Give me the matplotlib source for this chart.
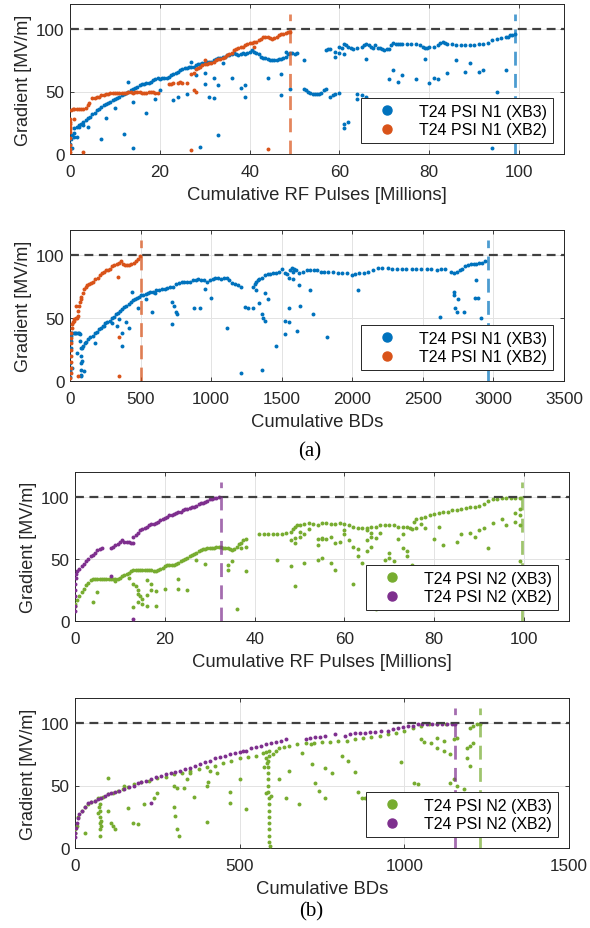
import matplotlib
matplotlib.use('Agg')
import matplotlib.pyplot as plt
from matplotlib.lines import Line2D

plt.rcParams['font.family'] = ['Liberation Sans', 'DejaVu Sans']

# cores no estilo MATLAB
AZUL = '#0072BD'
LARANJA = '#D95319'
VERDE = '#77AC30'
ROXO = '#7E2F8E'

# ---- (a) T24 PSI N1, gradiente vs pulsos RF (milhoes) ----
n1_pulsos_xb3 = [
    (0, 4), (0, 8), (0.3, 12), (0.5, 15), (0.8, 17), (1, 14), (1, 21), (1.5, 22), (2, 23), (2.5, 24), (3, 26),
    (3.5, 27), (4, 29), (4.5, 30), (5, 32), (5.5, 33), (6, 35), (6.5, 36), (7, 38), (7.5, 39), (8, 40),
    (8.5, 41), (9, 42), (9.5, 43), (10, 44), (10.5, 45), (11, 46), (11.5, 47), (12, 48), (12.5, 49),
    (13, 50), (13.5, 51), (14, 52), (14.5, 53), (15, 54), (15.5, 55), (16, 56), (16.5, 56), (17, 57),
    (17.5, 57), (18, 58), (18.5, 59), (19, 60), (19.5, 61), (20, 60), (20.5, 61), (21, 61), (21.5, 61),
    (22, 62), (22.5, 63), (23, 64), (23.5, 65), (24, 66), (24.5, 67), (25, 68), (25.5, 69), (26, 69),
    (26.5, 70), (27, 70), (27.5, 70), (28, 71), (28.5, 72), (29, 72), (29.5, 73), (30, 73), (30.5, 74),
    (31, 74), (31.5, 74), (32, 75), (32.5, 76), (33, 77), (33.5, 77), (34, 78), (34.5, 78), (35, 79),
    (35.5, 79), (36, 80), (36.5, 81), (37, 80), (37.5, 79), (38, 80), (38.5, 81), (39, 80), (39.5, 81),
    (40, 82), (40.5, 83), (41, 82), (41.5, 81), (42, 80), (42.5, 78), (43, 77), (43.5, 77), (44, 76),
    (44.5, 75), (45, 75), (45.5, 75), (46, 75), (46.5, 76), (47, 76), (47.5, 77), (48, 78), (48.5, 80),
    (49, 81), (49.5, 81), (50, 80), (50.5, 81),
    # pontos dispersos
    (0.5, 5), (1.5, 14), (2, 22), (3, 23), (4, 22), (7, 12), (8, 29), (10, 37), (12, 16), (13, 58),
    (14, 5), (14, 42), (17, 33), (19, 44), (20, 51), (23, 43), (24, 46), (27, 74), (26, 48), (28, 63),
    (29, 6), (30, 56), (30, 65), (31, 46), (32, 45), (32, 61), (33, 55), (33, 15), (34, 73), (36, 61),
    (38, 53), (39, 46), (39, 55), (44, 61), (47, 47), (47, 64), (48, 82), (49, 52),
    # ramo inferior apos 50
    (52, 75), (52, 52), (52.5, 51), (53, 50), (53.5, 49), (54, 48), (54.5, 48), (55, 48), (55.5, 48),
    (56, 49), (56.5, 51), (57, 52), (58, 46), (58.5, 47), (59, 48), (60, 49), (61, 24), (61, 21),
    (62, 26), (64, 48), (64, 44), (65, 47), (66, 46),
    # ramo superior
    (57, 83), (57.5, 84), (58, 84), (59, 82), (59, 78), (60, 86), (60, 81), (60.5, 85), (61, 88),
    (61, 80), (61.5, 87), (62, 86), (62.5, 85), (63, 84), (64, 85), (65, 86), (65.5, 87), (66, 88),
    (66, 76), (66.5, 87), (67, 86), (67.5, 85), (68, 87), (68.5, 85), (69, 85), (69.5, 84), (70, 83),
    (70.5, 84), (71, 84), (71.5, 87), (72, 89), (72.5, 88), (73, 88), (73.5, 88), (74, 88), (75, 88),
    (76, 88), (77, 88), (78, 87), (78.5, 86), (79, 85), (79.5, 85), (80, 86), (81, 86), (82, 87),
    (82.5, 89), (83, 90), (83.5, 89), (84, 88), (85, 88), (86, 87), (87, 87), (88, 87), (89, 87),
    (90, 87), (91, 88), (92, 88), (93, 89), (94, 91), (95, 92), (96, 93), (97, 94), (97.5, 94),
    (98, 95), (98.5, 95), (99, 96),
    (71, 60), (72, 67), (73, 58), (74, 63), (77, 60), (79, 76), (80, 57), (81, 61), (82, 60),
    (84, 65), (86, 75), (88, 66), (89, 73), (91, 66), (92, 67), (95, 50), (97, 67), (94, 5),
]
n1_pulsos_xb2 = [
    (0, 2), (0, 4), (0, 7), (0, 13), (0, 18), (0, 20), (0, 22), (0, 24), (0, 26), (0, 28), (0.3, 35),
    (0.6, 36), (1, 36), (1.5, 36), (2, 36), (2.5, 36), (3, 36), (3.5, 37), (4, 39), (4.3, 41),
    (5, 45), (5.5, 45), (6, 46), (6.5, 46), (7, 47), (7.5, 47), (8, 48), (8.5, 48), (9, 49),
    (9.5, 49), (10, 49), (10.5, 49), (11, 49), (11.5, 49), (12, 49), (12.5, 49), (13, 50),
    (13.5, 50), (14, 49), (14.5, 50), (15, 50), (15.5, 50), (16, 49), (16.5, 49), (17, 49),
    (17.5, 50), (18, 50), (18.5, 50), (19, 49), (19.5, 49),
    (22, 56), (22.5, 56), (23, 57), (24, 57), (24.5, 58), (25, 57), (26, 57), (27, 64), (27.5, 65),
    (27.5, 51), (28, 50), (28, 68), (28.5, 69), (29, 70), (29.5, 71), (30, 72), (30.5, 72), (31, 73),
    (31.5, 73), (32, 74), (32.5, 75), (33, 76), (33.5, 76), (34, 77), (34.5, 78), (35, 79),
    (35.5, 80), (36, 81), (36.5, 83), (37, 84), (37.5, 85), (38, 86), (38.5, 86), (39, 87),
    (39.5, 88), (40, 89), (40.5, 89), (41, 90), (41.5, 90), (42, 91), (42.5, 92), (43, 94),
    (43.5, 94), (44, 94), (44.5, 93), (45, 92), (45.5, 93), (46, 94), (46.5, 95), (47, 96),
    (47.5, 96), (48, 97), (48.5, 98), (49, 98),
    (1, 28), (3, 2), (27, 3), (30, 75), (44, 4), (41, 86),
]
n1_fim_pulsos_xb3 = 99.2
n1_fim_pulsos_xb2 = 49

# ---- (a) T24 PSI N1, gradiente vs BDs acumulados ----
n1_bds_xb3 = [
    (0, 3), (0, 8), (2, 14), (3, 20), (4, 26), (5, 32), (6, 36), (5, 38), (15, 38), (25, 38),
    (35, 38), (45, 38), (55, 38), (65, 38), (72, 37), (74, 32), (75, 26), (75, 20), (75, 14),
    (76, 9), (77, 5), (80, 4), (82, 16), (85, 26), (95, 28), (105, 30), (115, 31), (130, 33),
    (145, 35), (160, 36), (175, 38), (190, 39), (205, 41), (220, 42), (235, 44), (250, 46),
    (265, 47), (280, 48), (295, 50), (310, 51), (325, 53), (340, 54), (355, 56), (370, 57),
    (385, 59), (400, 60), (415, 61), (430, 63), (445, 64), (460, 65), (475, 66), (490, 67),
    (505, 68), (520, 68), (535, 69), (550, 70), (570, 71), (590, 71), (610, 72), (630, 72),
    (650, 73), (670, 73), (690, 74), (710, 75), (730, 75), (750, 77), (770, 78), (790, 79),
    (810, 79), (830, 79), (850, 79), (870, 80), (890, 80), (910, 81), (930, 80), (950, 80),
    (970, 79), (990, 80), (1010, 81), (1030, 82), (1050, 82), (1070, 81), (1090, 82), (1110, 82),
    (1130, 80), (1150, 78), (1170, 77), (1190, 76), (1210, 75),
    (1300, 75), (1310, 77), (1320, 79), (1340, 81), (1360, 82), (1380, 84), (1400, 85), (1420, 85),
    (1440, 86), (1460, 86), (1480, 87), (1500, 89), (1520, 86), (1540, 85), (1560, 88), (1570, 90),
    (1580, 87), (1590, 89), (1600, 88), (1620, 86), (1650, 87), (1680, 88), (1700, 88), (1730, 88),
    (1750, 88), (1780, 87), (1800, 87), (1830, 87), (1860, 87), (1900, 86), (1930, 86), (1960, 86),
    (2000, 84), (2020, 85), (2050, 86), (2080, 86), (2110, 87), (2150, 88), (2180, 90), (2210, 90),
    (2250, 90), (2280, 89), (2320, 89), (2350, 89), (2380, 89), (2420, 89), (2450, 89), (2490, 89),
    (2530, 89), (2560, 89), (2600, 88), (2630, 89), (2660, 89), (2700, 87), (2720, 86), (2740, 87),
    (2760, 88), (2780, 89), (2800, 91), (2820, 92), (2840, 93), (2860, 93), (2880, 93), (2900, 94),
    (2920, 94), (2940, 95),
    # pontos dispersos
    (15, 10), (50, 22), (100, 8), (180, 30), (240, 44), (330, 44), (300, 46), (350, 49), (370, 38),
    (370, 28), (400, 47), (420, 42), (440, 71), (480, 58), (540, 65), (580, 55), (600, 70),
    (720, 45), (740, 60), (750, 55), (760, 53), (720, 63), (880, 58), (920, 58), (960, 73),
    (1000, 66), (1110, 42), (1210, 6), (1240, 59), (1260, 58), (1300, 58), (1320, 72), (1330, 80),
    (1340, 62), (1360, 53), (1370, 50), (1380, 48), (1360, 9), (1400, 65), (1380, 70), (1460, 28),
    (1520, 37), (1520, 48), (1550, 47), (1550, 58), (1580, 81), (1550, 82), (1620, 76), (1700, 72),
    (1630, 60), (1720, 53), (1610, 40), (1820, 35), (2040, 72), (2720, 71), (2720, 68),
    (2730, 58), (2740, 55), (2750, 65), (2790, 55), (2870, 66), (2890, 66), (2880, 80), (2620, 51),
    (2910, 50),
]
n1_bds_xb2 = [
    (3, 2), (4, 6), (5, 10), (5, 15), (6, 20), (7, 25), (8, 30), (9, 34), (10, 38), (12, 42),
    (15, 45), (20, 47), (25, 48), (30, 49), (40, 50), (50, 50), (55, 52), (60, 56), (65, 60),
    (70, 63), (75, 65), (80, 67), (90, 70), (100, 73), (110, 75), (120, 76), (135, 77),
    (150, 78), (165, 79), (180, 81), (195, 82), (210, 84), (225, 86), (240, 87), (255, 88),
    (270, 88), (285, 89), (300, 91), (315, 92), (330, 93), (345, 94), (360, 95), (375, 93),
    (390, 92), (405, 92), (420, 92), (435, 93), (450, 94), (465, 95), (480, 97), (495, 99),
    (350, 35), (350, 4), (60, 4), (340, 83), (40, 60),
]
n1_fim_bds_xb3 = 2960
n1_fim_bds_xb2 = 500

# ---- (b) T24 PSI N2, gradiente vs pulsos RF (milhoes) ----
n2_pulsos_xb3 = [
    (0, 12), (0, 14), (0.5, 17), (1, 20), (1.5, 23), (2, 26), (2.5, 29), (3, 31), (3.5, 33),
    (4, 34), (4.5, 34), (5, 34), (5.5, 34), (6, 34), (6.5, 34), (7, 34), (7.5, 34), (8, 34),
    (8.5, 34), (9, 34), (9.5, 34), (10, 35), (10.5, 36), (11, 37), (11.5, 38), (12, 39),
    (12.5, 40), (13, 41), (13.5, 41), (14, 41), (14.5, 41), (15, 41), (15.5, 41), (16, 41),
    (16.5, 41), (17, 41), (17.5, 40), (18, 40), (18.5, 41), (19, 42), (19.5, 43), (20, 44),
    (20.5, 45), (21, 45), (21.5, 45), (22, 45), (22.5, 46), (23, 47), (23.5, 48), (24, 49),
    (24.5, 50), (25, 51), (25.5, 52), (26, 53), (26.5, 54), (27, 55), (27.5, 56), (28, 57),
    (28.5, 58), (29, 58), (29.5, 59), (30, 59), (30.5, 59), (31, 59), (31.5, 60), (32, 60),
    (32.5, 60), (33, 59), (33.5, 59), (34, 59), (34.5, 58), (35, 57), (35.5, 58), (36, 60),
    (36.5, 62), (37, 63), (37.5, 65), (38, 66),
    (4, 15), (5, 23), (9, 32), (12, 35), (13, 11), (13, 30), (13.5, 28), (14, 25), (14, 22),
    (14.5, 20), (15, 18), (15, 14), (14, 15), (16, 12), (16, 33), (17, 30), (17, 25), (18, 12),
    (18, 24), (16, 21), (20, 26), (23, 34), (23, 26), (25, 25), (27, 49), (29, 46), (34, 45),
    (34, 41), (35, 48), (36, 10), (37, 59), (38, 40), (38, 60),
    (41, 70), (42, 70), (43, 70), (44, 70), (45, 70), (46, 70), (47, 71), (48, 72), (48.5, 74),
    (49, 76), (49.5, 77), (45, 49), (48, 44), (49, 28), (49, 63), (48, 65), (49, 67), (50, 68),
    (50, 77), (51, 78), (52, 79), (53, 78), (54, 77), (55, 79), (56, 79), (57, 78), (58, 78),
    (59, 79), (60, 78), (61, 77), (62, 76), (63, 75), (64, 75), (65, 75), (66, 76), (67, 76),
    (68, 77), (69, 77), (70, 77), (71, 77), (72, 76), (73, 76), (74, 76), (74.5, 75), (75, 74),
    (75.5, 80), (76, 82), (77, 83), (78, 84), (79, 85), (80, 86), (81, 87), (82, 88), (83, 88),
    (84, 89), (85, 89), (86, 90), (87, 91), (88, 92), (89, 92), (90, 93), (91, 94), (92, 97),
    (93, 98), (94, 98), (95, 99), (96, 99), (97, 99), (98, 99), (99, 99),
    (50, 72), (51, 70), (52, 74), (54, 66), (55, 66), (56, 66), (57, 68), (58, 63), (59, 64),
    (60, 73), (61, 65), (62, 60), (63, 52), (64, 47), (65, 73), (66, 68), (67, 67), (68, 71),
    (69, 49), (70, 55), (71, 48), (72, 66), (73, 70), (73, 59), (74, 56), (74, 52), (75, 45),
    (70, 51), (73, 40), (76, 75), (77, 78), (78, 75), (80, 66), (81, 76), (82, 61), (85, 64),
    (86, 70), (88, 71), (89, 68), (90, 73), (91, 75), (92, 59), (93, 79), (95, 82), (96, 77),
    (98, 87), (98, 80), (99, 77), (99, 48), (62, 30), (66, 24), (68, 21), (67, 10), (63, 58),
    (60, 70), (58, 41), (57, 47), (55, 51), (54, 61), (65, 65), (66, 71), (55, 67), (51, 47),
    (54, 49), (65, 56), (66, 60), (67, 13), (99, 85), (99, 90),
]
n2_pulsos_xb2 = [
    (0, 8), (0, 12), (0, 20), (0, 25), (0, 30), (0.2, 35), (0.3, 38), (0.5, 40), (1, 42),
    (1.5, 44), (2, 46), (2.5, 48), (3, 50), (3.5, 52), (4, 53), (4.5, 55), (5, 57), (5.5, 58),
    (6, 59), (8, 59), (8.5, 60), (9, 61), (9.5, 62), (10, 64), (10.5, 65), (11, 64), (11.5, 64),
    (12, 64), (12.5, 63), (13, 63), (13, 68), (13.5, 69), (14, 71), (14.5, 73), (15, 74),
    (15.5, 75), (16, 76), (16.5, 77), (17, 78), (17.5, 78), (18, 79), (18.5, 80), (19, 81),
    (19.5, 82), (20, 83), (20.5, 84), (21, 85), (21.5, 85), (22, 86), (22.5, 87), (23, 88),
    (23.5, 88), (24, 89), (24.5, 90), (25, 90), (25.5, 91), (26, 92), (26.5, 92), (27, 93),
    (27.5, 94), (28, 95), (28.5, 95), (29, 96), (29.5, 97), (30, 98), (30.5, 98), (31, 99),
    (31.5, 99), (32, 100),
    (8, 36), (13, 2),
]
n2_fim_pulsos_xb3 = 99.5
n2_fim_pulsos_xb2 = 32.5

# ---- (b) T24 PSI N2, gradiente vs BDs acumulados ----
n2_bds_xb3 = [
    (0, 12), (0, 15), (5, 18), (10, 25), (20, 30), (30, 33), (40, 35), (50, 37), (60, 38),
    (70, 40), (85, 41), (100, 43), (115, 44), (130, 46), (145, 47), (160, 49), (180, 51),
    (200, 53), (225, 54), (250, 56), (275, 57), (300, 59), (325, 60), (350, 62), (375, 63),
    (400, 65), (425, 66), (450, 68), (475, 70), (500, 72), (525, 73), (550, 74), (570, 76),
    (580, 77), (600, 75), (610, 78), (620, 80), (635, 81), (650, 82), (675, 83), (700, 84),
    (725, 84), (750, 85), (775, 85), (800, 86), (825, 86), (850, 87), (875, 88), (900, 89),
    (925, 90), (950, 91), (975, 92), (1000, 94), (1025, 96), (1050, 98), (1075, 99), (1100, 99),
    (1125, 99), (1150, 99), (1200, 96), (1210, 98), (1220, 99), (1230, 99),
    (75, 40), (75, 35), (75, 30), (75, 25), (75, 20), (75, 15), (75, 10), (70, 28), (80, 22),
    (78, 18), (72, 33), (585, 70), (585, 65), (585, 60), (585, 55), (585, 50), (585, 45),
    (590, 40), (590, 35), (590, 30), (590, 25), (590, 20), (590, 15), (590, 10), (590, 5),
    (592, 2), (580, 44), (595, 42), (575, 65), (580, 72), (590, 78), (588, 74), (582, 68),
    (30, 12), (100, 30), (110, 20), (120, 15), (115, 18), (100, 56), (150, 50), (160, 32),
    (175, 20), (190, 19), (210, 35), (240, 40), (250, 44), (300, 33), (305, 26), (310, 15),
    (315, 10), (300, 50), (310, 48), (330, 48), (340, 55), (350, 60), (360, 41), (400, 21),
    (400, 50), (405, 53), (410, 62), (430, 60), (470, 36), (470, 45), (500, 55), (520, 31),
    (620, 55), (640, 40), (650, 62), (690, 76), (720, 67), (760, 64), (780, 60), (810, 74),
    (830, 70), (850, 61), (860, 45), (870, 40), (880, 40), (900, 24), (910, 30), (940, 19),
    (990, 69), (1030, 52), (1060, 85), (1080, 84), (1100, 80), (1120, 78), (1140, 75), (1150, 55),
    (1140, 52), (1160, 50), (1180, 47), (1190, 80), (1200, 82), (1210, 84), (1190, 72), (1200, 66),
    (680, 35), (730, 52), (740, 46), (760, 40), (1040, 51), (1150, 87), (1160, 88), (1100, 88),
    (1120, 86), (1050, 87), (718, 83),
]
n2_bds_xb2 = [
    (0, 9), (0, 12), (2, 16), (5, 20), (8, 24), (12, 27), (20, 30), (30, 33), (40, 36),
    (50, 37), (60, 38), (70, 39), (80, 40), (90, 42), (100, 43), (110, 44), (120, 45), (135, 46),
    (150, 47), (165, 49), (180, 50), (190, 52), (200, 53), (215, 54), (230, 55), (245, 57),
    (260, 58), (275, 59), (290, 60), (305, 61), (320, 62), (335, 63), (350, 64), (365, 66),
    (380, 67), (395, 69), (410, 70), (425, 72), (440, 73), (455, 74), (470, 75), (485, 76),
    (500, 77), (510, 78), (520, 78), (535, 80), (550, 81), (565, 82), (580, 83), (595, 84),
    (610, 85), (625, 86), (640, 87), (700, 87), (715, 88), (730, 89), (745, 89), (760, 90),
    (790, 91), (820, 90), (835, 91), (850, 92), (865, 92), (880, 92), (895, 93), (910, 93),
    (930, 94), (950, 94), (965, 95), (980, 96), (995, 97), (1010, 98), (1025, 98), (1040, 99),
    (1055, 99), (1070, 99), (1085, 99), (1100, 99), (1115, 99), (1130, 99), (1145, 99), (1155, 99),
    (230, 36),
]
n2_fim_bds_xb3 = 1230
n2_fim_bds_xb2 = 1155

W, H = 590, 929
fig = plt.figure(figsize=(W / 100, H / 100), dpi=100)


def eixo(esq, topo, dir_, base):
    return fig.add_axes([esq / W, 1 - base / H, (dir_ - esq) / W, (base - topo) / H])


def painel(ax, series, fins, xmax, xticks, xlabel, nomes):
    for (pts, cor) in series:
        xs, ys = zip(*pts)
        ax.scatter(xs, ys, s=8, color=cor, linewidths=0, zorder=3)
    ax.axhline(100, color='#404040', lw=1.6, dashes=(4, 2.5), zorder=4)
    for (xf, cor) in fins:
        ax.plot([xf, xf], [0, 112], color=cor, alpha=0.7, lw=2.0, dashes=(5, 3), zorder=4)
    ax.set_xlim(0, xmax)
    ax.set_ylim(0, 120)
    ax.set_xticks(xticks)
    ax.set_yticks([0, 50, 100])
    ax.grid(True, color='#e3e3e3', lw=0.7, zorder=0)
    ax.set_axisbelow(True)
    ax.tick_params(direction='in', length=3, width=0.6, labelsize=12.3, colors='#262626',
                   top=True, right=True)
    ax.tick_params(axis='x', pad=7)
    ax.tick_params(axis='y', pad=4)
    for s in ax.spines.values():
        s.set_color('#262626')
        s.set_linewidth(0.7)
    ax.set_xlabel(xlabel, fontsize=13.3, color='#262626', labelpad=5)
    ax.set_ylabel('Gradient [MV/m]', fontsize=13, color='#262626', labelpad=3)
    handles = [Line2D([], [], ls='none', marker='o', markersize=6.5, color=cor, label=nome)
               for (nome, cor) in nomes]
    leg = ax.legend(handles=handles, loc='lower right', fontsize=11.5, frameon=True,
                    fancybox=False, framealpha=1, edgecolor='#262626', handlelength=2.6,
                    handletextpad=0.7, borderaxespad=0.7, borderpad=0.35, labelspacing=0.2)
    leg.get_frame().set_linewidth(0.7)
    leg.set_zorder(5)


ax1 = eixo(70, 5, 564, 155)
painel(ax1, [(n1_pulsos_xb3, AZUL), (n1_pulsos_xb2, LARANJA)],
       [(n1_fim_pulsos_xb2, LARANJA), (n1_fim_pulsos_xb3, AZUL)], 110, [0, 20, 40, 60, 80, 100],
       'Cumulative RF Pulses [Millions]',
       [('T24 PSI N1 (XB3)', AZUL), ('T24 PSI N1 (XB2)', LARANJA)])

ax2 = eixo(70, 231, 564, 382)
painel(ax2, [(n1_bds_xb3, AZUL), (n1_bds_xb2, LARANJA)],
       [(n1_fim_bds_xb2, LARANJA), (n1_fim_bds_xb3, AZUL)], 3500,
       [0, 500, 1000, 1500, 2000, 2500, 3000, 3500], 'Cumulative BDs',
       [('T24 PSI N1 (XB3)', AZUL), ('T24 PSI N1 (XB2)', LARANJA)])

ax3 = eixo(75, 473, 569, 622)
painel(ax3, [(n2_pulsos_xb3, VERDE), (n2_pulsos_xb2, ROXO)],
       [(n2_fim_pulsos_xb2, ROXO), (n2_fim_pulsos_xb3, VERDE)], 110, [0, 20, 40, 60, 80, 100],
       'Cumulative RF Pulses [Millions]',
       [('T24 PSI N2 (XB3)', VERDE), ('T24 PSI N2 (XB2)', ROXO)])

ax4 = eixo(75, 699, 569, 849)
painel(ax4, [(n2_bds_xb3, VERDE), (n2_bds_xb2, ROXO)],
       [(n2_fim_bds_xb2, ROXO), (n2_fim_bds_xb3, VERDE)], 1500, [0, 500, 1000, 1500],
       'Cumulative BDs',
       [('T24 PSI N2 (XB3)', VERDE), ('T24 PSI N2 (XB2)', ROXO)])

fig.text(310 / W, 1 - 452 / H, '(a)', ha='center', va='center', fontsize=15,
         family=['Liberation Serif', 'DejaVu Serif'])
fig.text(311 / W, 1 - 912 / H, '(b)', ha='center', va='center', fontsize=15,
         family=['Liberation Serif', 'DejaVu Serif'])

fig.savefig('out.png', dpi=100)
